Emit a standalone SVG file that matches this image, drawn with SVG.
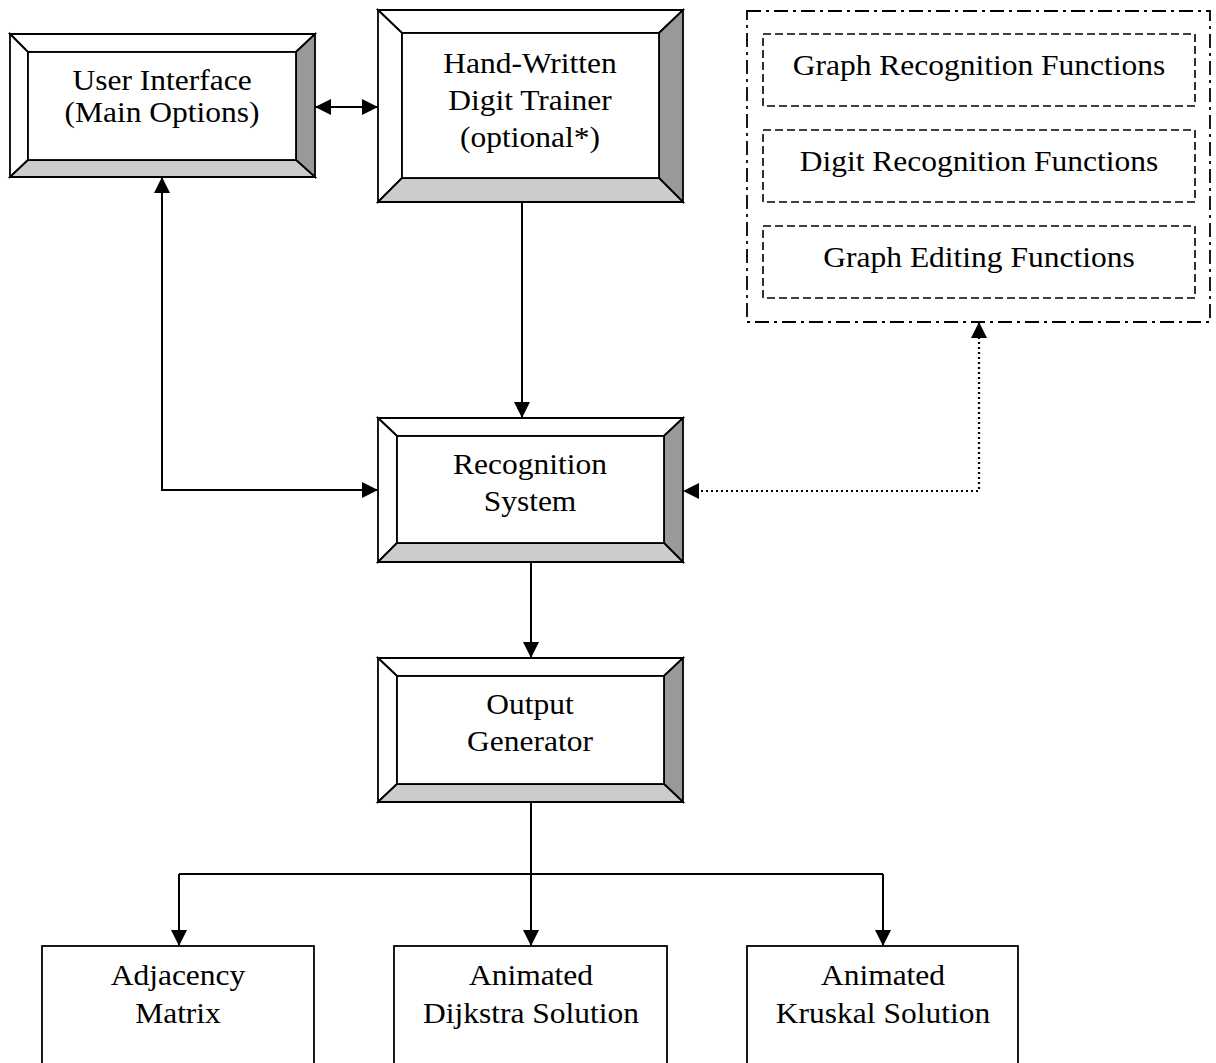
<svg xmlns="http://www.w3.org/2000/svg" width="1216" height="1063" viewBox="0 0 1216 1063">
  <style>
    text { font-family: "Liberation Serif", "Times New Roman", serif; font-size: 30px; fill: #000; text-anchor: middle; }
    .face { fill: #fff; stroke: #000; stroke-width: 1.8; }
    .lite { fill: #fff; stroke: #000; stroke-width: 1.8; }
    .mid { fill: #cccccc; stroke: #000; stroke-width: 1.8; }
    .dark { fill: #999999; stroke: #000; stroke-width: 1.8; }
    .plain { fill: #fff; stroke: #000; stroke-width: 1.8; }
    .dashbox { fill: none; stroke: #000; stroke-width: 1.6; stroke-dasharray: 8 4; }
    .dashdot { fill: none; stroke: #000; stroke-width: 1.8; stroke-dasharray: 14 5 3 5; }
    .wire { fill: none; stroke: #000; stroke-width: 2; }
    .dots { fill: none; stroke: #000; stroke-width: 2.2; stroke-dasharray: 2 3; }
  </style>
  <defs>
    <marker id="head" markerUnits="userSpaceOnUse" markerWidth="17" markerHeight="17" refX="16" refY="8" orient="auto-start-reverse">
      <path d="M0,0 L16,8 L0,16 z" fill="#000"/>
    </marker>
  </defs>

  <!-- connectors -->
  <g id="connectors">
    <path class="wire" d="M315,107 H378" marker-start="url(#head)" marker-end="url(#head)"/>
    <path class="wire" d="M162,177 V490 H378" marker-start="url(#head)" marker-end="url(#head)"/>
    <path class="wire" d="M522,202 V418" marker-end="url(#head)"/>
    <path class="wire" d="M531,562 V658" marker-end="url(#head)"/>
    <path class="dots" d="M979,322 V491 H683" marker-start="url(#head)" marker-end="url(#head)"/>
    <path class="wire" d="M531,802 V874"/>
    <path class="wire" d="M179,874 H883"/>
    <path class="wire" d="M179,874 V946" marker-end="url(#head)"/>
    <path class="wire" d="M531,874 V946" marker-end="url(#head)"/>
    <path class="wire" d="M883,874 V946" marker-end="url(#head)"/>
  </g>

  <!-- bevelled box: User Interface -->
  <g id="user-interface">
    <polygon class="lite" points="10,34 315,34 296,52 28,52"/>
    <polygon class="lite" points="10,34 28,52 28,160 10,177"/>
    <polygon class="dark" points="315,34 315,177 296,160 296,52"/>
    <polygon class="mid" points="10,177 28,160 296,160 315,177"/>
    <rect class="face" x="28" y="52" width="268" height="108"/>
    <text x="0" y="90" transform="translate(162 0) scale(1.05 1)">User Interface</text>
    <text x="0" y="122" transform="translate(162 0) scale(1.05 1)">(Main Options)</text>
  </g>

  <!-- bevelled box: Hand-Written Digit Trainer -->
  <g id="digit-trainer">
    <polygon class="lite" points="378,10 683,10 659,33 402,33"/>
    <polygon class="lite" points="378,10 402,33 402,178 378,202"/>
    <polygon class="dark" points="683,10 683,202 659,178 659,33"/>
    <polygon class="mid" points="378,202 402,178 659,178 683,202"/>
    <rect class="face" x="402" y="33" width="257" height="145"/>
    <text x="0" y="73" transform="translate(530 0) scale(1.05 1)">Hand-Written</text>
    <text x="0" y="110" transform="translate(530 0) scale(1.05 1)">Digit Trainer</text>
    <text x="0" y="147" transform="translate(530 0) scale(1.05 1)">(optional*)</text>
  </g>

  <!-- bevelled box: Recognition System -->
  <g id="recognition-system">
    <polygon class="lite" points="378,418 683,418 664,436 397,436"/>
    <polygon class="lite" points="378,418 397,436 397,543 378,562"/>
    <polygon class="dark" points="683,418 683,562 664,543 664,436"/>
    <polygon class="mid" points="378,562 397,543 664,543 683,562"/>
    <rect class="face" x="397" y="436" width="267" height="107"/>
    <text x="0" y="474" transform="translate(530 0) scale(1.05 1)">Recognition</text>
    <text x="0" y="511" transform="translate(530 0) scale(1.05 1)">System</text>
  </g>

  <!-- bevelled box: Output Generator -->
  <g id="output-generator">
    <polygon class="lite" points="378,658 683,658 664,676 397,676"/>
    <polygon class="lite" points="378,658 397,676 397,784 378,802"/>
    <polygon class="dark" points="683,658 683,802 664,784 664,676"/>
    <polygon class="mid" points="378,802 397,784 664,784 683,802"/>
    <rect class="face" x="397" y="676" width="267" height="108"/>
    <text x="0" y="714" transform="translate(530 0) scale(1.05 1)">Output</text>
    <text x="0" y="751" transform="translate(530 0) scale(1.05 1)">Generator</text>
  </g>

  <!-- function library container -->
  <g id="function-library">
    <rect class="dashdot" x="747" y="11" width="463" height="311"/>
  </g>
  <g id="graph-recognition">
    <rect class="dashbox" x="763" y="34" width="432" height="72"/>
    <text x="0" y="75" transform="translate(979 0) scale(1.05 1)">Graph Recognition Functions</text>
  </g>
  <g id="digit-recognition">
    <rect class="dashbox" x="763" y="130" width="432" height="72"/>
    <text x="0" y="171" transform="translate(979 0) scale(1.05 1)">Digit Recognition Functions</text>
  </g>
  <g id="graph-editing">
    <rect class="dashbox" x="763" y="226" width="432" height="72"/>
    <text x="0" y="267" transform="translate(979 0) scale(1.05 1)">Graph Editing Functions</text>
  </g>

  <!-- output views -->
  <g id="adjacency-matrix">
    <rect class="plain" x="42" y="946" width="272" height="130"/>
    <text x="0" y="985" transform="translate(178 0) scale(1.05 1)">Adjacency</text>
    <text x="0" y="1023" transform="translate(178 0) scale(1.05 1)">Matrix</text>
  </g>
  <g id="dijkstra-solution">
    <rect class="plain" x="394" y="946" width="273" height="130"/>
    <text x="0" y="985" transform="translate(531 0) scale(1.05 1)">Animated</text>
    <text x="0" y="1023" transform="translate(531 0) scale(1.05 1)">Dijkstra Solution</text>
  </g>
  <g id="kruskal-solution">
    <rect class="plain" x="747" y="946" width="271" height="130"/>
    <text x="0" y="985" transform="translate(883 0) scale(1.05 1)">Animated</text>
    <text x="0" y="1023" transform="translate(883 0) scale(1.05 1)">Kruskal Solution</text>
  </g>
</svg>
